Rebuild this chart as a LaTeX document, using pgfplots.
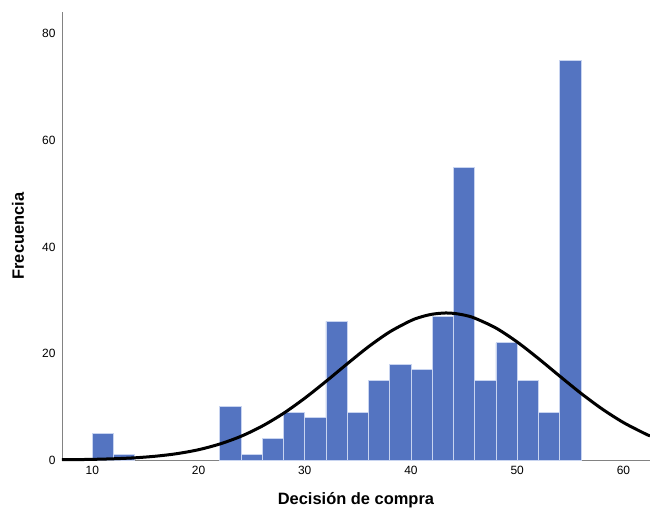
\documentclass[border=0pt]{standalone}
\usepackage{fontspec}
\setmainfont{Liberation Sans}
\usepackage{pgfplots}
\pgfplotsset{compat=1.18}
\definecolor{barblue}{RGB}{84,116,193}
\definecolor{baredge}{RGB}{200,212,240}
\definecolor{axgray}{RGB}{130,130,130}
\begin{document}
\begin{tikzpicture}
\useasboundingbox (-62bp,-53bp) rectangle (588bp,460bp);
\begin{axis}[
  at={(0,0)}, anchor=south west,
  scale only axis, width=588bp, height=448bp,
  xmin=7.15, xmax=62.5, ymin=0, ymax=84.1,
  axis x line*=bottom, axis y line*=left,
  axis line style={-, axgray, line width=0.9bp},
  xtick={10,20,30,40,50,60}, ytick={0,20,40,60,80},
  major tick length=0pt,
  tick label style={font=\fontsize{12}{12}\selectfont},
  /pgf/number format/assume math mode=true,
  xticklabel style={yshift=-3bp},
  yticklabel style={xshift=-3bp},
  xlabel={\textbf{Decisión de compra}},
  ylabel={\textbf{Frecuencia}},
  label style={font=\fontsize{16.5}{16.5}\selectfont},
  xlabel style={at={(axis description cs:0.5,0)}, anchor=center, yshift=-40bp},
  ylabel style={at={(axis description cs:0,0.5)}, anchor=center, rotate=0, yshift=44bp},
  clip=false,
]
\addplot[ybar, bar width=2, bar shift=0, fill=barblue, draw=baredge, line width=0.8bp]
coordinates {
(11,5) (13,1) (23,10) (25,1) (27,4) (29,9) (31,8) (33,26) (35,9) (37,15)
(39,18) (41,17) (43,27) (45,55) (47,15) (49,22) (51,15) (53,9) (55,75)
};
\addplot[black, line width=3bp, smooth, mark=none]
coordinates {
(7.15,0.05) (8,0.06) (10,0.12) (12,0.23) (14,0.41) (16,0.72) (18,1.20) (20,1.93)
(22,3.0) (24,4.45) (26,6.37) (28,8.76) (30,11.6) (32,14.76) (34,18.06) (36,21.26)
(38,24.05) (40,26.17) (41,26.89) (42,27.37) (43,27.58) (43.3,27.6) (44,27.53) (45,27.21)
(46,26.63) (48,24.77) (50,22.15) (52,19.04) (54,15.75) (56,12.52) (58,9.57)
(60,7.03) (62,4.97) (62.5,4.53)
};
\end{axis}
\end{tikzpicture}
\end{document}
